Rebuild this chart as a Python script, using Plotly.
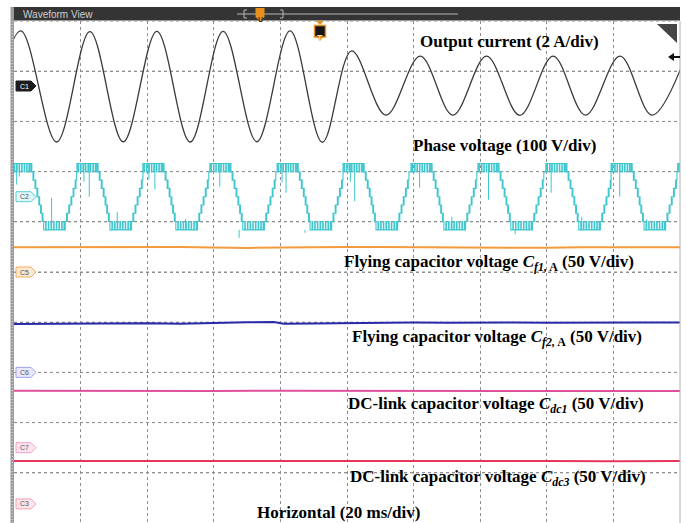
import plotly.graph_objects as go

# ---------------------------------------------------------------------------
# Screen geometry: 10 x 10 divisions, 20 ms/div horizontally
# ---------------------------------------------------------------------------
T_SPAN = 200.0          # ms
N_DIV = 10
W, H = 686, 523
ML, MR, MT, MB = 14, 6, 21, 0

# ---------------------------------------------------------------------------
# Channel data
# ---------------------------------------------------------------------------
# Output current (C1): times (ms) of the successive peaks / troughs and values (A)
cur_t = [-8.0, 2.0, 12.8, 22.8, 32.8, 42.9, 52.9, 62.8, 72.9, 82.9, 92.6,
         101.4, 111.7, 122.0, 131.8, 141.9, 151.9, 161.9, 171.6, 182.0, 191.6, 201.7]
cur_a = [-2.20, 2.20, -2.23, 2.17, -2.22, 2.18, -2.23, 2.18, -2.22, 2.20, -2.24,
         1.40, -1.16, 1.19, -1.16, 1.19, -1.17, 1.19, -1.16, 1.19, -1.16, 1.19]

# Phase voltage (C2): switching sequence over one fundamental cycle
# (time from the start of the positive plateau in ms, output level in V)
pv_rel_t = [0.0, 0.35, 0.5, 1.1, 1.25, 1.8, 1.95, 2.55, 2.7, 3.3, 3.45, 4.05, 4.2,
            4.8, 4.95, 5.5, 5.65,
            6.0, 6.25, 6.35, 6.7, 6.85, 6.95, 7.3, 7.45, 7.55, 7.9, 8.05, 8.15,
            8.45, 8.6, 8.7, 8.95, 9.1, 9.2, 9.45, 9.6, 9.7, 9.9,
            10.5, 10.65, 11.3, 11.45, 12.1, 12.25, 12.9, 13.05, 13.7, 13.85,
            14.5, 14.65, 15.3, 15.45,
            16.0, 16.3, 16.4, 16.8, 16.95, 17.05, 17.45, 17.6, 17.7, 18.1, 18.25,
            18.35, 18.75, 18.9, 19.0, 19.35, 19.5, 19.6, 19.8]
pv_level = [66, 49.5, 66, 49.5, 66, 49.5, 66, 49.5, 66, 49.5, 66, 49.5, 66,
            49.5, 66, 49.5, 66,
            49.5, 66, 49.5, 33, 49.5, 33, 16.5, 33, 16.5, 0, 16.5, 0,
            -16.5, 0, -16.5, -33, -16.5, -33, -49.5, -33, -49.5, -66,
            -49.5, -66, -49.5, -66, -49.5, -66, -49.5, -66, -49.5, -66,
            -49.5, -66, -49.5, -66,
            -49.5, -66, -49.5, -33, -49.5, -33, -16.5, -33, -16.5, 0, -16.5,
            0, 16.5, 0, 16.5, 33, 16.5, 33, 49.5]
# start of each positive plateau (ms)
pv_cycle_start = [-21.0, -1.0, 18.9, 38.7, 58.8, 79.0, 98.8, 119.2, 139.3,
                  159.7, 179.3, 199.3]
# isolated switching spikes: time (ms), level before, spike tip (V)
spike_t = [0.8, 1.6, 11.3, 21.0, 22.6, 31.0, 40.5, 42.3, 51.5, 61.8, 67.6,
           80.5, 81.7, 87.4, 101.0, 102.3, 121.8, 131.5, 142.5, 150.5, 161.3,
           170.5, 181.9, 190.0]
spike_from = [66, 66, -66, 66, 66, -66, 66, 66, -66, 66, -66,
              66, 66, -66, 66, 66, 66, -66, 66, -66, 66,
              -66, 66, -66]
spike_to = [24, 40, -2, 30, 0, -30, 34, 14, -45, 20, -82,
            28, 8, -72, 30, -9, 18, -40, -6, -75, 8,
            -40, 0, -45]

# Flying capacitor and DC-link capacitor voltages (V)
cf1_t = [0, 10, 20, 30, 40, 50, 60, 70, 80, 90, 100, 110, 120, 130, 140, 150,
         160, 170, 180, 190, 200]
cf1_v = [24.6, 24.8, 24.7, 24.9, 25.3, 25.0, 24.5, 24.0, 24.4, 24.8, 24.9, 24.8,
         24.6, 24.9, 24.7, 24.3, 24.1, 24.6, 24.7, 24.8, 24.6]
cf2_t = [0, 10, 20, 30, 40, 50, 60, 70, 78, 81, 90, 100, 110, 120, 130, 140,
         150, 160, 170, 180, 190, 200]
cf2_v = [48.3, 48.5, 48.0, 48.6, 49.0, 48.4, 49.4, 50.0, 50.2, 48.4, 48.8, 49.2,
         49.5, 49.6, 49.4, 49.7, 49.6, 49.5, 49.8, 49.6, 49.7, 49.6]
cdc1_t = [0, 20, 40, 60, 80, 100, 120, 140, 160, 180, 200]
cdc1_v = [56.6, 56.4, 56.8, 56.5, 56.7, 56.6, 56.4, 56.7, 56.5, 56.6, 56.5]
cdc3_t = [0, 20, 40, 60, 80, 100, 120, 140, 160, 180, 200]
cdc3_v = [42.7, 42.8, 42.6, 42.9, 42.7, 42.8, 42.6, 42.7, 42.8, 42.6, 42.7]

# Channel settings: ground position (div from bottom), units per div, colour, tag style
channels = {
    "C1": dict(axis="y2", ground=8.705, per_div=2.0, color="#3a3a3a",
               tag_fill="#1c1c1c", tag_line="#1c1c1c", tag_font="#ffffff"),
    "C2": dict(axis="y3", ground=6.50, per_div=100.0, color="#3fc6cf",
               tag_fill="#e2f6f8", tag_line="#5ccbd3", tag_font="#555555"),
    "C5": dict(axis="y4", ground=5.0, per_div=50.0, color="#f39a3c",
               tag_fill="#fde8d0", tag_line="#f3ad62", tag_font="#555555"),
    "C6": dict(axis="y5", ground=3.0, per_div=50.0, color="#2a2aa8",
               tag_fill="#e8e8fb", tag_line="#a3a3ea", tag_font="#555555"),
    "C7": dict(axis="y6", ground=1.5, per_div=50.0, color="#de4f9c",
               tag_fill="#fde3ee", tag_line="#f0a3c6", tag_font="#555555"),
    "C3": dict(axis="y7", ground=0.38, per_div=50.0, color="#e7365c",
               tag_fill="#fde3e8", tag_line="#f2a4b5", tag_font="#555555"),
}


def px_x(px):
    return (px - ML) / (W - ML - MR)


def px_y(py):
    return (H - MB - py) / (H - MT - MB)


fig = go.Figure()

# Output current
fig.add_trace(go.Scatter(x=cur_t, y=cur_a, yaxis=channels["C1"]["axis"], mode="lines",
                         line=dict(color=channels["C1"]["color"], width=1.3, shape="spline"),
                         hoverinfo="skip"))

# Phase voltage built from the per-cycle switching sequence
pv_x, pv_y = [], []
for k, t0 in enumerate(pv_cycle_start):
    t_next = pv_cycle_start[k + 1] if k + 1 < len(pv_cycle_start) else t0 + 20.0
    for rt, lv in zip(pv_rel_t, pv_level):
        if t0 + rt < t_next:
            pv_x.append(t0 + rt)
            pv_y.append(lv)
fig.add_trace(go.Scatter(x=pv_x, y=pv_y, yaxis=channels["C2"]["axis"], mode="lines",
                         line=dict(color=channels["C2"]["color"], width=1.1, shape="hv"),
                         hoverinfo="skip"))
sx, sy = [], []
for t, a, b in zip(spike_t, spike_from, spike_to):
    sx += [t, t, None]
    sy += [a, b, None]
fig.add_trace(go.Scatter(x=sx, y=sy, yaxis=channels["C2"]["axis"], mode="lines",
                         line=dict(color=channels["C2"]["color"], width=1.0),
                         hoverinfo="skip"))

# Capacitor voltages
for name, tt, vv in [("C5", cf1_t, cf1_v), ("C6", cf2_t, cf2_v),
                     ("C7", cdc1_t, cdc1_v), ("C3", cdc3_t, cdc3_v)]:
    fig.add_trace(go.Scatter(x=tt, y=vv, yaxis=channels[name]["axis"], mode="lines",
                             line=dict(color=channels[name]["color"], width=2.0),
                             hoverinfo="skip"))

shapes = []
annotations = []

# Horizontal division lines
for d in range(1, N_DIV + 1):
    shapes.append(dict(type="line", xref="paper", yref="y", x0=0, x1=1, y0=d, y1=d,
                       line=dict(color="#8e8e8e", width=1, dash="3px,3px"), layer="below"))

# Channel ground tags on the left edge
for name, ch in channels.items():
    shapes.append(dict(type="path", xref="x", yref=ch["axis"], xsizemode="pixel",
                       ysizemode="pixel", xanchor=0, yanchor=0,
                       path="M2,-5 L17,-5 L22,0 L17,5 L2,5 Z",
                       fillcolor=ch["tag_fill"], line=dict(color=ch["tag_line"], width=1)))
    annotations.append(dict(x=px_x(24), xref="paper", y=0, yref=ch["axis"], text=name,
                            showarrow=False, xanchor="center", yanchor="middle",
                            font=dict(family="Liberation Sans", size=7, color=ch["tag_font"])))

# Left ruler strip
shapes.append(dict(type="rect", xref="paper", yref="paper", x0=px_x(10.5), x1=px_x(14),
                   y0=px_y(523), y1=px_y(7), fillcolor="#9a9a9a", line=dict(width=0),
                   layer="above"))
shapes.append(dict(type="line", xref="paper", yref="paper", x0=px_x(12.3), x1=px_x(12.3),
                   y0=px_y(523), y1=px_y(21), line=dict(color="#e0e0e0", width=1, dash="1px,2px"),
                   layer="above"))
# Right border
shapes.append(dict(type="line", xref="paper", yref="paper", x0=1, x1=1, y0=0, y1=1,
                   line=dict(color="#b0b0b0", width=1)))

# Title bar
shapes.append(dict(type="rect", xref="paper", yref="paper", x0=px_x(14), x1=px_x(680),
                   y0=px_y(20.5), y1=px_y(7), fillcolor="#343434", line=dict(width=0)))
annotations.append(dict(x=px_x(21), xref="paper", y=px_y(14), yref="paper",
                        text="Waveform View", showarrow=False, xanchor="left",
                        yanchor="middle",
                        font=dict(family="Liberation Sans", size=10, color="#cfcfcf")))
# Zoom slider in the title bar
shapes.append(dict(type="line", xref="paper", yref="paper", x0=px_x(237), x1=px_x(458),
                   y0=px_y(14), y1=px_y(14), line=dict(color="#b5b5b5", width=1)))
for bx, d in [(244, 3), (283, -3)]:
    shapes.append(dict(type="path", xref="paper", yref="paper",
                       path=f"M{px_x(bx + d)},{px_y(10)} L{px_x(bx)},{px_y(10)} "
                            f"L{px_x(bx)},{px_y(18)} L{px_x(bx + d)},{px_y(18)}",
                       line=dict(color="#b5b5b5", width=1)))
shapes.append(dict(type="path", xref="paper", yref="paper",
                   path=f"M{px_x(255.5)},{px_y(8)} L{px_x(264.5)},{px_y(8)} "
                        f"L{px_x(264.5)},{px_y(17)} L{px_x(260)},{px_y(21)} "
                        f"L{px_x(255.5)},{px_y(17)} Z",
                   fillcolor="#e8901c", line=dict(width=0)))
annotations.append(dict(x=px_x(260), xref="paper", y=px_y(13.5), yref="paper", text="<b>U</b>",
                        showarrow=False, font=dict(family="Liberation Sans", size=7,
                                                   color="#3a2a10")))

# Trigger marker
shapes.append(dict(type="path", xref="paper", yref="paper",
                   path=f"M{px_x(316)},{px_y(21)} L{px_x(324)},{px_y(21)} L{px_x(320)},{px_y(25)} Z",
                   fillcolor="#e8901c", line=dict(width=0)))
shapes.append(dict(type="rect", xref="paper", yref="paper", x0=px_x(314.5), x1=px_x(325.5),
                   y0=px_y(37), y1=px_y(25.5), fillcolor="#141414",
                   line=dict(color="#e8901c", width=1.5)))
shapes.append(dict(type="path", xref="paper", yref="paper",
                   path=f"M{px_x(317)},{px_y(37)} L{px_x(323)},{px_y(37)} L{px_x(320)},{px_y(41)} Z",
                   fillcolor="#e8901c", line=dict(width=0)))
annotations.append(dict(x=px_x(320), xref="paper", y=px_y(31.2), yref="paper", text="<b>T</b>",
                        showarrow=False, font=dict(family="Liberation Sans", size=9,
                                                   color="#f4d3a0")))

# Corner handle and right-side reference arrow
shapes.append(dict(type="path", xref="paper", yref="paper",
                   path=f"M{px_x(657)},{px_y(24)} L{px_x(677)},{px_y(24)} L{px_x(677)},{px_y(43)} Z",
                   fillcolor="#454545", line=dict(width=0)))
shapes.append(dict(type="path", xref="paper", yref="paper",
                   path=f"M{px_x(668)},{px_y(57)} L{px_x(674)},{px_y(53)} L{px_x(674)},{px_y(61)} Z",
                   fillcolor="#111111", line=dict(width=0)))
shapes.append(dict(type="line", xref="paper", yref="paper", x0=px_x(673), x1=px_x(680),
                   y0=px_y(57), y1=px_y(57), line=dict(color="#111111", width=2)))

# Channel captions
serif = dict(family="Liberation Serif", size=17, color="#000000")
captions = [
    (418, 42, "<b>Output current (2 A/div)</b>"),
    (411, 145, "<b>Phase voltage (100 V/div)</b>"),
    (342, 263, "<b>Flying capacitor voltage <i>C</i><sub><i>f1,</i> A</sub> (50 V/div)</b>"),
    (350, 338, "<b>Flying capacitor voltage <i>C</i><sub><i>f2,</i> A</sub> (50 V/div)</b>"),
    (346, 405, "<b>DC-link capacitor voltage <i>C</i><sub><i>dc1</i></sub> (50 V/div)</b>"),
    (348, 478, "<b>DC-link capacitor voltage <i>C</i><sub><i>dc3</i></sub> (50 V/div)</b>"),
    (255, 512, "<b>Horizontal (20 ms/div)</b>"),
]
for cx, cy, txt in captions:
    annotations.append(dict(x=px_x(cx), xref="paper", y=px_y(cy), yref="paper", text=txt,
                            showarrow=False, xanchor="left", yanchor="middle", font=serif))

grid = dict(showgrid=True, gridcolor="#8e8e8e", gridwidth=1, griddash="3px,3px",
            zeroline=False, showticklabels=False, ticks="", showline=False)

layout = dict(
    width=W, height=H,
    margin=dict(l=ML, r=MR, t=MT, b=MB),
    paper_bgcolor="#ffffff", plot_bgcolor="rgba(0,0,0,0)",
    showlegend=False,
    xaxis=dict(range=[0, T_SPAN], dtick=T_SPAN / N_DIV, **grid),
    yaxis=dict(range=[0, N_DIV], dtick=1, **grid),
    shapes=shapes,
    annotations=annotations,
)
for name, ch in channels.items():
    key = "yaxis" + ch["axis"][1:]
    g, s = ch["ground"], ch["per_div"]
    layout[key] = dict(range=[-g * s, (N_DIV - g) * s], overlaying="y", anchor="x",
                       showgrid=False, zeroline=False, showticklabels=False, ticks="",
                       showline=False)

fig.update_layout(**layout)
fig.write_html("out.html")
